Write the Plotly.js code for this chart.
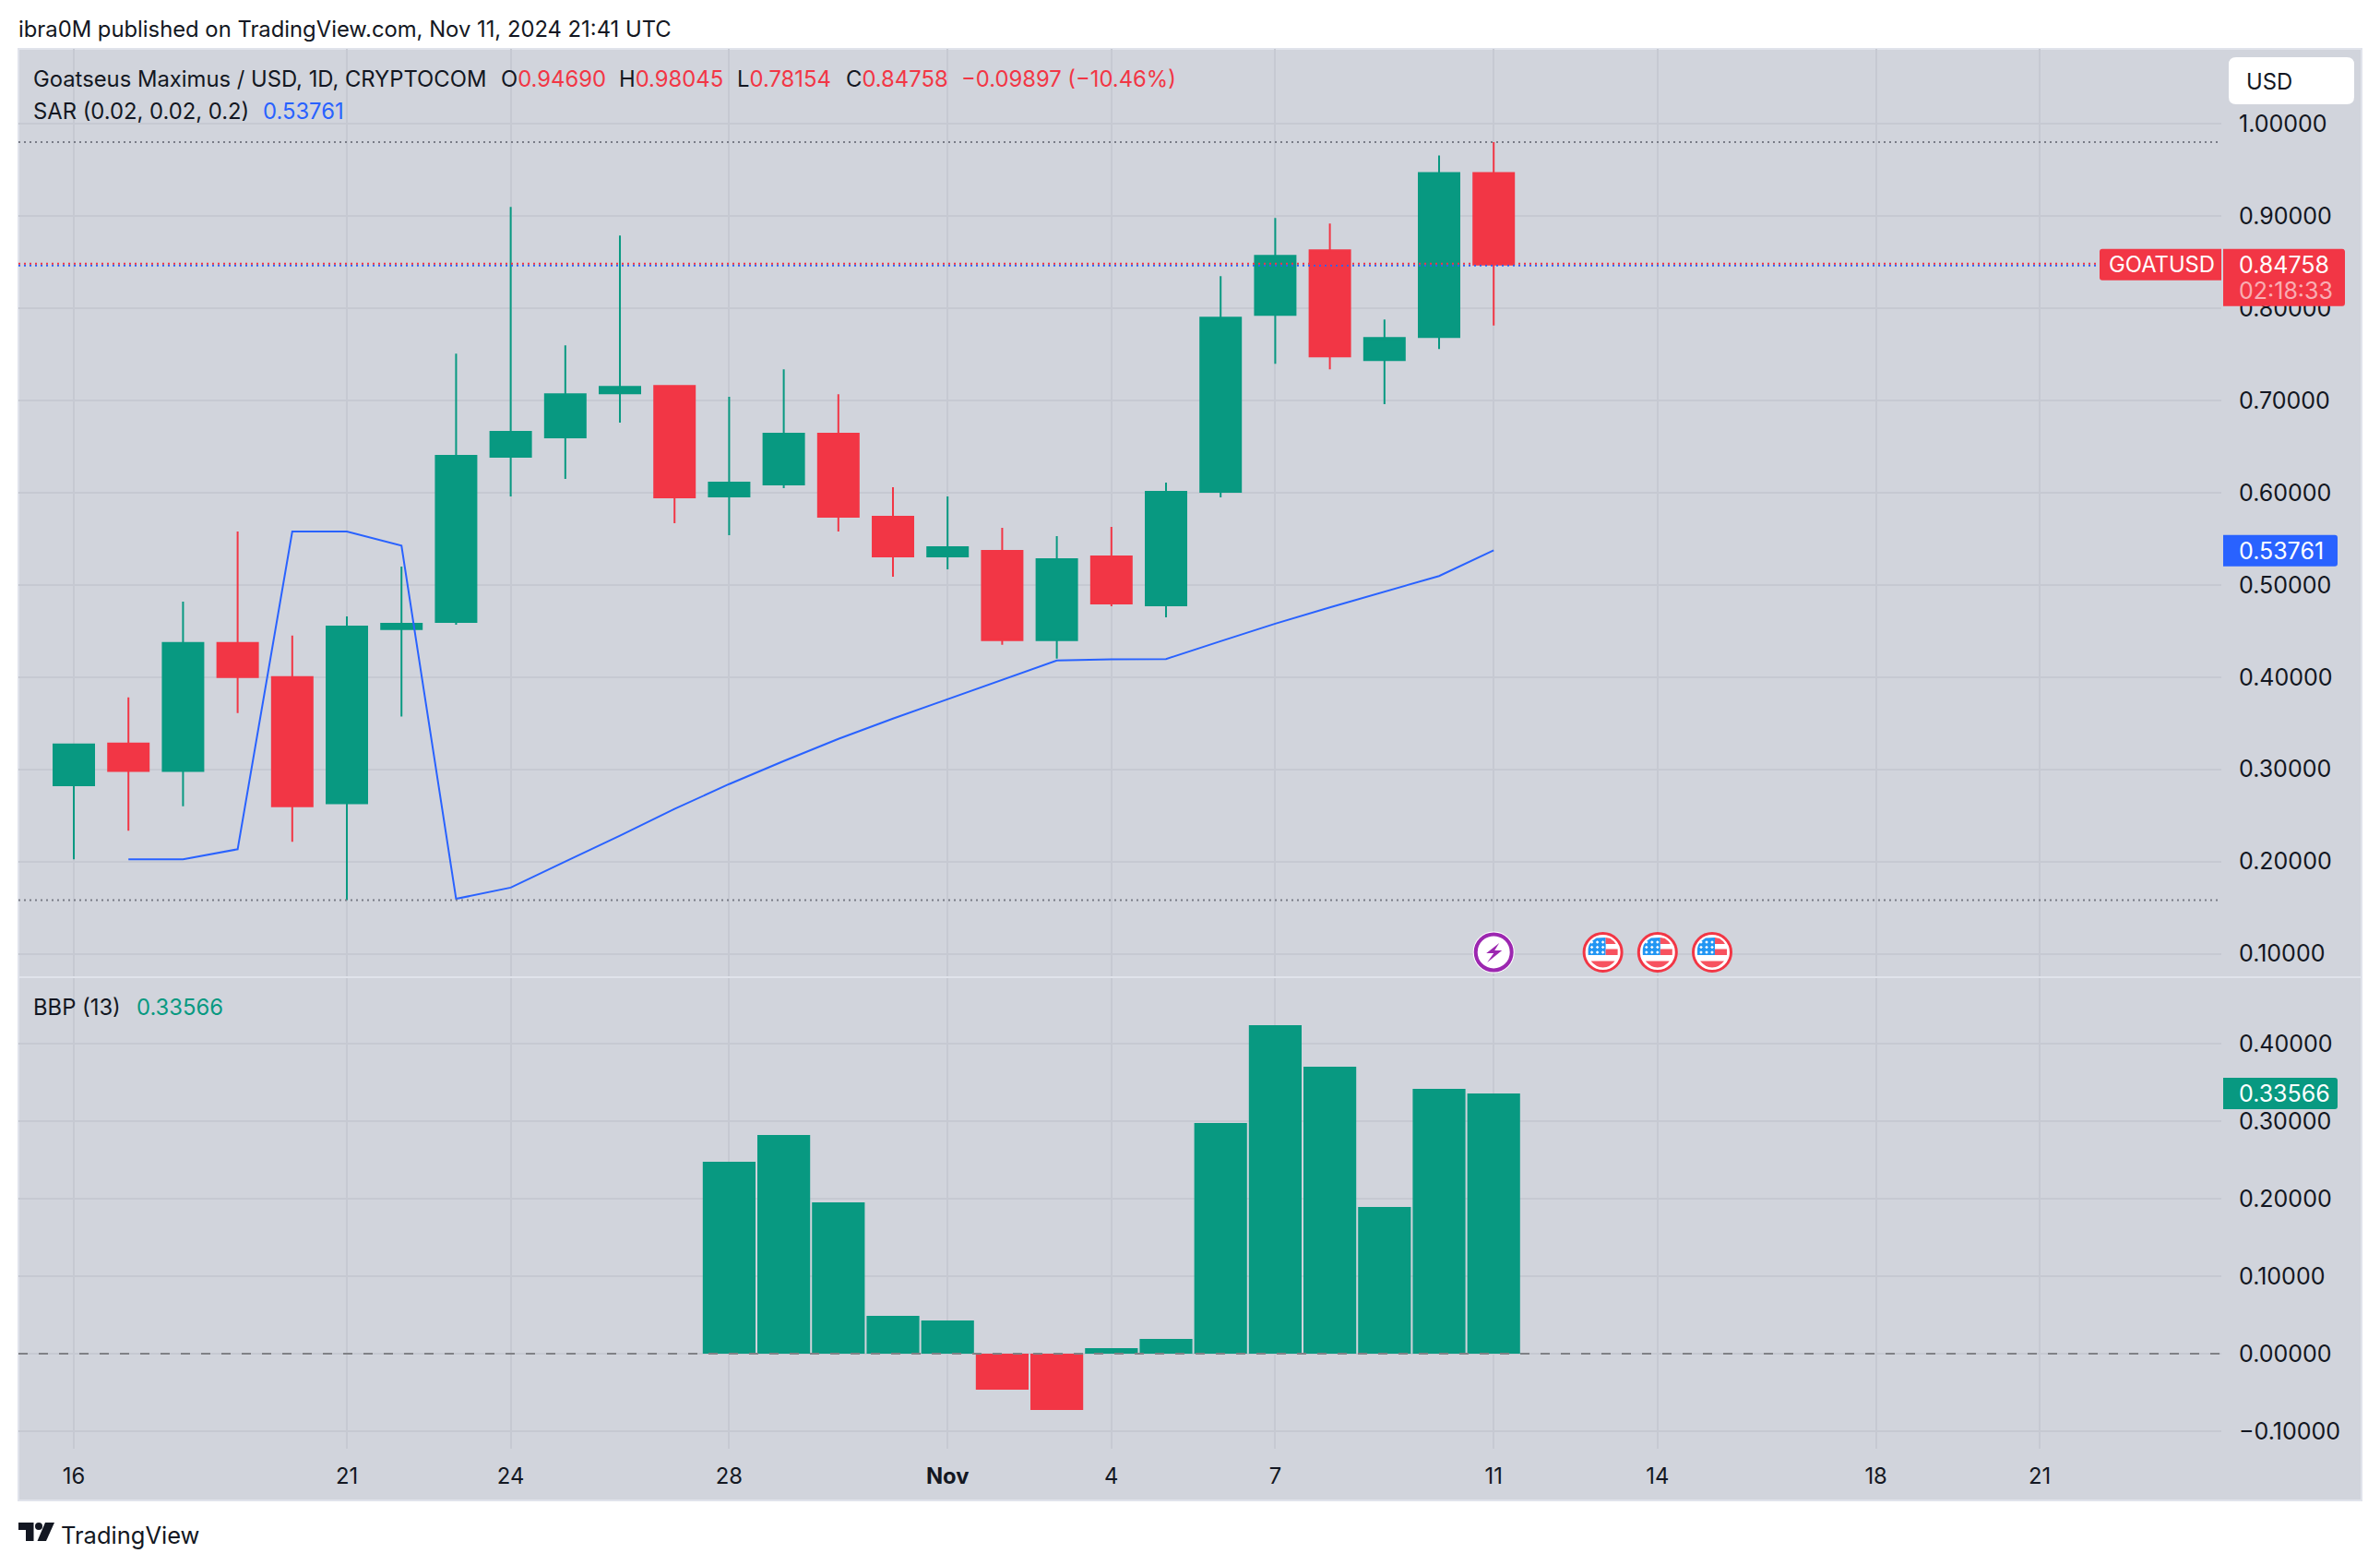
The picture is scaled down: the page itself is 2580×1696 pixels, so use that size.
<!DOCTYPE html>
<html>
<head>
<meta charset="utf-8">
<script src="https://cdn.plot.ly/plotly-3.0.1.min.js"></script>
<style>html,body{margin:0;padding:0;background:#fff}</style>
</head>
<body>
<div id="chart" style="width:2580px;height:1696px"></div>
<script>
// daily candles, Oct 16 to Nov 11 2024
const DATES = ["2024-10-16","2024-10-17","2024-10-18","2024-10-19","2024-10-20","2024-10-21","2024-10-22","2024-10-23","2024-10-24","2024-10-25","2024-10-26","2024-10-27","2024-10-28","2024-10-29","2024-10-30","2024-10-31","2024-11-01","2024-11-02","2024-11-03","2024-11-04","2024-11-05","2024-11-06","2024-11-07","2024-11-08","2024-11-09","2024-11-10","2024-11-11"];
const OPEN  = [0.2827,0.3280,0.2983,0.4370,0.4000,0.2633,0.4520,0.4600,0.6390,0.6600,0.7080,0.7160,0.5960,0.6090,0.6640,0.5740,0.5310,0.5370,0.4400,0.5310,0.4780,0.6010,0.7930,0.8630,0.7440,0.7690,0.94690];
const HIGH  = [0.3280,0.3780,0.4820,0.5580,0.4450,0.4660,0.5200,0.7510,0.9100,0.7600,0.8790,0.7170,0.7040,0.7340,0.7070,0.6060,0.5960,0.5620,0.5530,0.5630,0.6110,0.8350,0.8980,0.8920,0.7880,0.9660,0.98045];
const LOW   = [0.2023,0.2333,0.2600,0.3610,0.2213,0.1580,0.3573,0.4570,0.5960,0.6150,0.6760,0.5670,0.5540,0.6050,0.5580,0.5090,0.5170,0.4350,0.4200,0.4770,0.4650,0.5950,0.7400,0.7340,0.6960,0.7560,0.78154];
const CLOSE = [0.3270,0.2983,0.4370,0.4000,0.2600,0.4550,0.4580,0.6400,0.6660,0.7070,0.7150,0.5950,0.6110,0.6640,0.5740,0.5310,0.5410,0.4400,0.5280,0.4800,0.6010,0.7900,0.8570,0.7480,0.7680,0.9469,0.84758];

const SAR_DATES = DATES.slice(1);
const SAR = [0.2023,0.2023,0.2133,0.5580,0.5580,0.5427,0.1595,0.1717,0.2000,0.2280,0.2570,0.2840,0.3090,0.3330,0.3550,0.3760,0.3970,0.4180,0.4193,0.4197,0.4390,0.4580,0.4757,0.4928,0.5097,0.53761];

const BBP_DATES = DATES.slice(12);
const BBP = [0.2476,0.2821,0.1952,0.0488,0.0429,-0.0464,-0.0726,0.0071,0.0190,0.2976,0.4238,0.3702,0.1893,0.3417,0.33566];

const TICK_DATES = ["2024-10-16","2024-10-21","2024-10-24","2024-10-28","2024-11-01","2024-11-04","2024-11-07","2024-11-11","2024-11-14","2024-11-18","2024-11-21"];
const TICK_TEXT = ["16","21","24","28","<b>Nov</b>","4","7","11","14","18","21"];
const PRICE_TICKS = [0.1,0.2,0.3,0.4,0.5,0.6,0.7,0.8,0.9,1.0];
const BBP_TICKS = [-0.1,0,0.1,0.2,0.3,0.4];
const FLAG_DATES = ["2024-11-13","2024-11-14","2024-11-15"];

const LAST_PRICE = 0.84758, PERIOD_HIGH = 0.98045, PERIOD_LOW = 0.158, LAST_SAR = 0.53761, LAST_BBP = 0.33566;

const GREEN = "#089981", RED = "#F23645", BLUE = "#2962FF", INK = "#131722";
const BG = "#D1D4DC", GRID = "#C6C9D2", DOT = "#787B86", EDGE = "#E0E3EB";
const FONT = "Inter, sans-serif", FS = 23.8, NUM_FS = 25;

const W = 2580, H = 1696;
const px = x => x / W, py = y => 1 - y / H;
const X_RANGE = ["2024-10-14 23:40", "2024-11-24 07:47"];
const priceY = v => 134.5 + (1 - v) * 999.5;
const bbpY = v => 1467 - v * 840;

function poly(points) {
  return "M" + points.map(p => px(p[0]) + "," + py(p[1])).join("L") + "Z";
}
// rounded rectangle, r = [tl, tr, br, bl]
function tagPath(x0, y0, x1, y1, r) {
  const P = (x, y) => px(x) + "," + py(y);
  return "M" + P(x0 + r[0], y0) + "L" + P(x1 - r[1], y0) + "Q" + P(x1, y0) + " " + P(x1, y0 + r[1]) +
    "L" + P(x1, y1 - r[2]) + "Q" + P(x1, y1) + " " + P(x1 - r[2], y1) +
    "L" + P(x0 + r[3], y1) + "Q" + P(x0, y1) + " " + P(x0, y1 - r[3]) +
    "L" + P(x0, y0 + r[0]) + "Q" + P(x0, y0) + " " + P(x0 + r[0], y0) + "Z";
}
const fill = (path, color) => ({type: "path", xref: "paper", yref: "paper", path: path, fillcolor: color, line: {width: 0}, layer: "above"});
const hline = (ref, v, x1, color, dash) => ({type: "line", xref: "paper", yref: ref, x0: px(20), x1: px(x1), y0: v, y1: v, line: {color: color, width: 2, dash: dash}, layer: "above"});

function text(x, y, str, color, size) {
  return {xref: "paper", yref: "paper", x: px(x), y: py(y), text: str, showarrow: false, xanchor: "left", yanchor: "middle",
    font: {family: FONT, size: size || FS, color: color || INK}, borderpad: 0, borderwidth: 0};
}

// event icons sit on the date axis, sized in pixels around their day
const ICON_Y = 1.0 - (1032.5 - 134.5) / 999.5;
function iconShape(date, path, color, lineColor, lineWidth) {
  return {type: "path", xref: "x", yref: "y", xsizemode: "pixel", ysizemode: "pixel", xanchor: date, yanchor: ICON_Y, path: path,
    fillcolor: color, line: {color: lineColor || color, width: lineWidth || 0}, layer: "above"};
}
function circlePath(r) {
  const k = 0.5523 * r;
  return `M${-r},0C${-r},${k} ${-k},${r} 0,${r}C${k},${r} ${r},${k} ${r},0C${r},${-k} ${k},${-r} 0,${-r}C${-k},${-r} ${-r},${-k} ${-r},0Z`;
}
function flagIcon(date) {
  const out = [
    iconShape(date, circlePath(20.5), "#FFFFFF", RED, 3),
    iconShape(date, "M-16,4L-15,8Q-12,13 -7,15.5L3,16L3,-3L-16,-3Z", "#2196F3"),
    iconShape(date, "M3,16L8,15Q12,12.5 14,9L3,9Z", "#F7525F"),
    iconShape(date, "M3,3.5L16,3.5L16,-3L3,-3Z", "#F7525F"),
    iconShape(date, "M-13,-9.5L13,-9.5Q8,-16 0,-16.5Q-8,-16 -13,-9.5Z", "#F7525F")
  ];
  [-12, -6, 0].forEach(sx => [11, 5.5, 0].forEach(sy => {
    out.push(iconShape(date, `M${sx - 1.8},${sy}L${sx},${sy + 1.8}L${sx + 1.8},${sy}L${sx},${sy - 1.8}Z`, "#FFFFFF"));
  }));
  return out;
}

const traces = [
  {type: "candlestick", x: DATES, open: OPEN, high: HIGH, low: LOW, close: CLOSE, xaxis: "x", yaxis: "y", whiskerwidth: 0,
   increasing: {line: {color: GREEN, width: 2}, fillcolor: GREEN},
   decreasing: {line: {color: RED, width: 2}, fillcolor: RED}, showlegend: false, hoverinfo: "skip"},
  {type: "scatter", mode: "lines", x: SAR_DATES, y: SAR, xaxis: "x", yaxis: "y", line: {color: BLUE, width: 2}, showlegend: false, hoverinfo: "skip"},
  {type: "bar", x: BBP_DATES, y: BBP, xaxis: "x2", yaxis: "y2", marker: {color: BBP.map(v => v >= 0 ? GREEN : RED), line: {width: 0}}, showlegend: false, hoverinfo: "skip"}
];

const shapes = [
  // chart panel sits behind everything
  {type: "rect", xref: "paper", yref: "paper", x0: px(20), x1: px(2560), y0: py(53), y1: py(1626), fillcolor: BG, line: {color: EDGE, width: 2}, layer: "below"},
  {type: "line", xref: "paper", yref: "paper", x0: px(20), x1: px(2560), y0: py(1059), y1: py(1059), line: {color: EDGE, width: 2}, layer: "above"},
  hline("y", PERIOD_HIGH, 2404, DOT, "2px,4px"),
  hline("y", PERIOD_LOW, 2404, DOT, "2px,4px"),
  hline("y", LAST_PRICE - 0.001, 2276, BLUE, "2px,4px"),
  hline("y", LAST_PRICE + 0.001, 2276, RED, "2px,4px"),
  hline("y2", 0, 2408, "#808186", "10px,12px"),
  // usd box
  fill(tagPath(2416, 62, 2552, 113, [8, 8, 8, 8]), "#FFFFFF"),
  // value tags
  fill(tagPath(2276, priceY(LAST_PRICE) - 17, 2408, priceY(LAST_PRICE) + 17, [3, 0, 0, 3]), RED),
  fill(tagPath(2410, priceY(LAST_PRICE) - 17, 2542, priceY(LAST_PRICE) + 45, [0, 3, 3, 0]), RED),
  fill(tagPath(2410, priceY(LAST_SAR) - 17, 2534, priceY(LAST_SAR) + 17, [0, 3, 3, 0]), BLUE),
  fill(tagPath(2410, bbpY(LAST_BBP) - 17, 2534, bbpY(LAST_BBP) + 17, [0, 3, 3, 0]), GREEN),
  // lightning event
  iconShape("2024-11-11", circlePath(22.5), "#FFFFFF"),
  iconShape("2024-11-11", circlePath(19.5), "#FFFFFF", "#9C27B0", 4),
  iconShape("2024-11-11", "M6,10L-8,-1L0,-1L-7,-11L9,2L1,2Z", "#9C27B0"),
  ...FLAG_DATES.flatMap(flagIcon),
  // logo
  fill(poly([[20, 1650], [36.5, 1650], [36.5, 1670], [28, 1670], [28, 1658], [20, 1658]]), INK),
  fill(poly([[49, 1650], [59, 1650], [50, 1670], [40.5, 1670]]), INK),
  {type: "circle", xref: "paper", yref: "paper", x0: px(38), x1: px(46), y0: py(1658), y1: py(1650), fillcolor: INK, line: {width: 0}, layer: "above"}
];

const annotations = [
  text(20, 32, "ibra0M published on TradingView.com, Nov 11, 2024 21:41 UTC"),
  text(36, 85, "Goatseus Maximus / USD, 1D, CRYPTOCOM"),
  text(543, 85, `O<span style="color:${RED}">0.94690</span>`),
  text(671, 85, `H<span style="color:${RED}">0.98045</span>`),
  text(799, 85, `L<span style="color:${RED}">0.78154</span>`),
  text(917, 85, `C<span style="color:${RED}">0.84758</span>`),
  text(1042, 85, "\u22120.09897 (\u221210.46%)", RED),
  text(36, 120, "SAR (0.02, 0.02, 0.2)"),
  text(285, 120, "0.53761", BLUE),
  text(36, 1091, "BBP (13)"),
  text(148, 1091, "0.33566", GREEN),
  text(2435, 88, "USD"),
  text(2286, priceY(LAST_PRICE), "GOATUSD", "#FFFFFF"),
  text(2427, priceY(LAST_PRICE), "0.84758", "#FFFFFF", NUM_FS),
  text(2427, priceY(LAST_PRICE) + 28, "02:18:33", "rgba(255,255,255,0.6)", NUM_FS),
  text(2427, priceY(LAST_SAR), "0.53761", "#FFFFFF", NUM_FS),
  text(2427, bbpY(LAST_BBP), "0.33566", "#FFFFFF", NUM_FS),
  text(66, 1663, "TradingView", INK, 25.5)
];

const xBase = {type: "date", range: X_RANGE, domain: [px(20), px(2408)], tickmode: "array", tickvals: TICK_DATES, ticktext: TICK_TEXT,
  showgrid: true, gridcolor: GRID, gridwidth: 2, zeroline: false, showline: false, rangeslider: {visible: false}};
const yBase = {side: "right", tickmode: "array", tickformat: ".5f", showgrid: true, gridcolor: GRID, gridwidth: 2, zeroline: false, showline: false,
  ticks: "outside", ticklen: 13, tickcolor: "rgba(0,0,0,0)", tickfont: {family: FONT, size: NUM_FS, color: INK}};

const layout = {
  width: W, height: H, margin: {l: 0, r: 0, t: 0, b: 0}, paper_bgcolor: "#FFFFFF", plot_bgcolor: BG,
  showlegend: false, dragmode: false, hovermode: false, boxgap: 0.257, boxgroupgap: 0, bargap: 0.034,
  xaxis: Object.assign({}, xBase, {anchor: "y", showticklabels: false, ticks: ""}),
  xaxis2: Object.assign({}, xBase, {anchor: "y2", matches: "x", ticks: "outside", ticklen: 8, tickcolor: "rgba(0,0,0,0)", tickfont: {family: FONT, size: FS, color: INK}}),
  yaxis: Object.assign({}, yBase, {anchor: "x", domain: [py(1058), py(53)], range: [0.0755, 1.0815], tickvals: PRICE_TICKS}),
  yaxis2: Object.assign({}, yBase, {anchor: "x2", domain: [py(1570), py(1060)], range: [-0.1226, 0.4845], tickvals: BBP_TICKS}),
  shapes: shapes, annotations: annotations
};

Plotly.newPlot("chart", traces, layout, {displayModeBar: false, staticPlot: true});
</script>
</body>
</html>
